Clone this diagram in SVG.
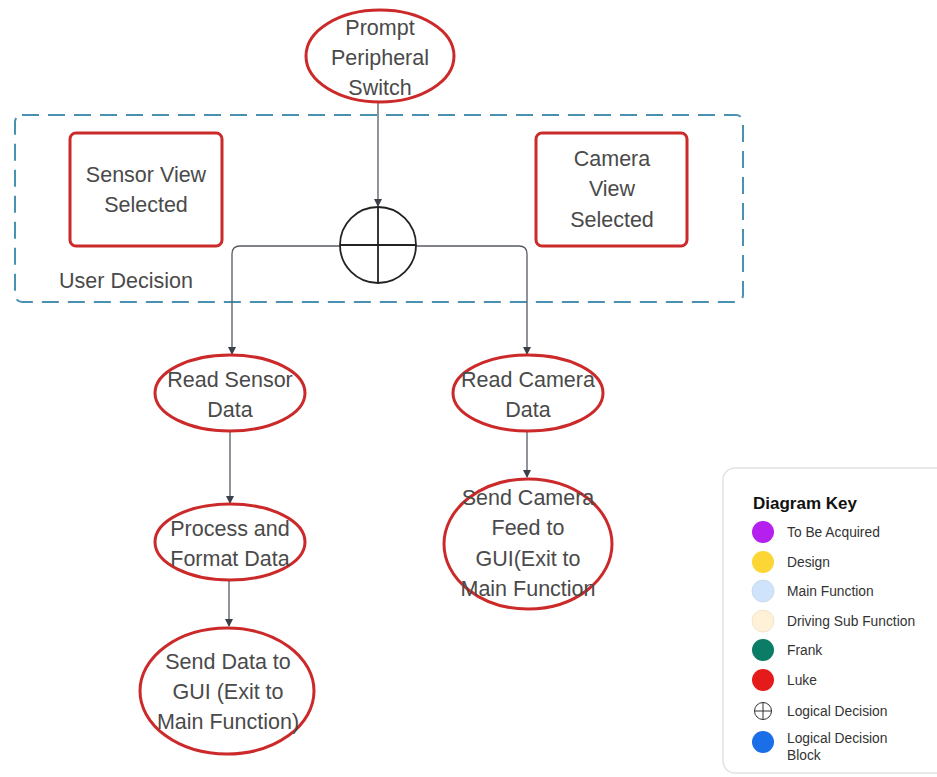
<svg xmlns="http://www.w3.org/2000/svg" width="937" height="777" viewBox="0 0 937 777">
<defs>
<marker id="ah" markerWidth="8" markerHeight="8" refX="7" refY="4" orient="auto" markerUnits="userSpaceOnUse">
<path d="M0,0 L8,4 L0,8 Z" fill="#3a3f4a"/>
</marker>
<style>
.node{fill:#fff;stroke:#cc2a2a;stroke-width:3}
.t{font-family:"Liberation Sans",Arial,sans-serif;font-size:21.5px;fill:#4a4a4a;text-anchor:middle}
.conn{fill:none;stroke:#555a63;stroke-width:1.3}
.k{font-family:"Liberation Sans",Arial,sans-serif;font-size:13.8px;fill:#333}
</style>
</defs>
<rect width="937" height="777" fill="#fff"/>
<g id="user-decision">
<rect x="15" y="115" width="728" height="187" rx="7" fill="none" stroke="#4a90b0" stroke-width="2" stroke-dasharray="17 9"/>
<text class="t" x="126" y="288">User Decision</text>
</g>
<g id="connectors">
<path class="conn" d="M378 103 V206" marker-end="url(#ah)"/>
<path class="conn" d="M378 246 H240 Q232 246 232 254 V354" marker-end="url(#ah)"/>
<path class="conn" d="M378 246 H519 Q527 246 527 254 V354" marker-end="url(#ah)"/>
<path class="conn" d="M230 432 V503" marker-end="url(#ah)"/>
<path class="conn" d="M229 581 V626" marker-end="url(#ah)"/>
<path class="conn" d="M527 432 V477" marker-end="url(#ah)"/>
</g>
<g id="prompt">
<ellipse class="node" cx="380" cy="56" rx="74" ry="46"/>
<text class="t" x="380" y="35">Prompt</text>
<text class="t" x="380" y="65">Peripheral</text>
<text class="t" x="380" y="95">Switch</text>
</g>
<g id="sensor-view">
<rect class="node" x="70" y="133" width="152" height="113" rx="6"/>
<text class="t" x="146" y="182">Sensor View</text>
<text class="t" x="146" y="212">Selected</text>
</g>
<g id="camera-view">
<rect class="node" x="536" y="133" width="151" height="113" rx="6"/>
<text class="t" x="612" y="166">Camera</text>
<text class="t" x="612" y="196">View</text>
<text class="t" x="612" y="227">Selected</text>
</g>
<g id="decision">
<circle cx="378" cy="245" r="38" fill="#fff" stroke="#222" stroke-width="1.8"/>
<path d="M340 245 H416 M378 207 V283" stroke="#222" stroke-width="1.8"/>
</g>
<g id="read-sensor">
<ellipse class="node" cx="230" cy="393" rx="75" ry="38"/>
<text class="t" x="230" y="387">Read Sensor</text>
<text class="t" x="230" y="417">Data</text>
</g>
<g id="process">
<ellipse class="node" cx="230" cy="542" rx="75" ry="38"/>
<text class="t" x="230" y="536">Process and</text>
<text class="t" x="230" y="566">Format Data</text>
</g>
<g id="send-data">
<ellipse class="node" cx="227" cy="691" rx="87" ry="63"/>
<text class="t" x="228" y="669">Send Data to</text>
<text class="t" x="228" y="699">GUI (Exit to</text>
<text class="t" x="228" y="729">Main Function)</text>
</g>
<g id="read-camera">
<ellipse class="node" cx="528" cy="393" rx="75" ry="38"/>
<text class="t" x="528" y="387">Read Camera</text>
<text class="t" x="528" y="417">Data</text>
</g>
<g id="send-camera">
<ellipse class="node" cx="528" cy="544" rx="84" ry="65"/>
<text class="t" x="528" y="505">Send Camera</text>
<text class="t" x="528" y="535">Feed to</text>
<text class="t" x="528" y="566">GUI(Exit to</text>
<text class="t" x="528" y="596">Main Function</text>
</g>
<g id="legend">
<rect x="723" y="468" width="230" height="305" rx="12" fill="#fff" stroke="#e2e2e2" stroke-width="1.5"/>
<text x="753" y="509" font-family="'Liberation Sans',Arial,sans-serif" font-size="17" font-weight="bold" fill="#111">Diagram Key</text>
<circle cx="763" cy="532" r="11" fill="#b520ee"/>
<text class="k" x="787" y="537">To Be Acquired</text>
<circle cx="763" cy="562" r="11" fill="#fcd634"/>
<text class="k" x="787" y="567">Design</text>
<circle cx="763" cy="591" r="11" fill="#cfe3fb" stroke="#c4d6ee" stroke-width="0.8"/>
<text class="k" x="787" y="596">Main Function</text>
<circle cx="763" cy="621" r="11" fill="#fff0d8" stroke="#eee0c8" stroke-width="0.8"/>
<text class="k" x="787" y="626">Driving Sub Function</text>
<circle cx="763" cy="650" r="11" fill="#0b7c66"/>
<text class="k" x="787" y="655">Frank</text>
<circle cx="763" cy="680" r="11" fill="#e51a1a"/>
<text class="k" x="787" y="685">Luke</text>
<circle cx="763" cy="711" r="8.5" fill="none" stroke="#333" stroke-width="1"/>
<path d="M754.5 711 H771.5 M763 702.5 V719.5" stroke="#333" stroke-width="1"/>
<text class="k" x="787" y="716">Logical Decision</text>
<circle cx="763" cy="742" r="11" fill="#1a6ee8"/>
<text class="k" x="787" y="743">Logical Decision</text>
<text class="k" x="787" y="760">Block</text>
</g>
</svg>
